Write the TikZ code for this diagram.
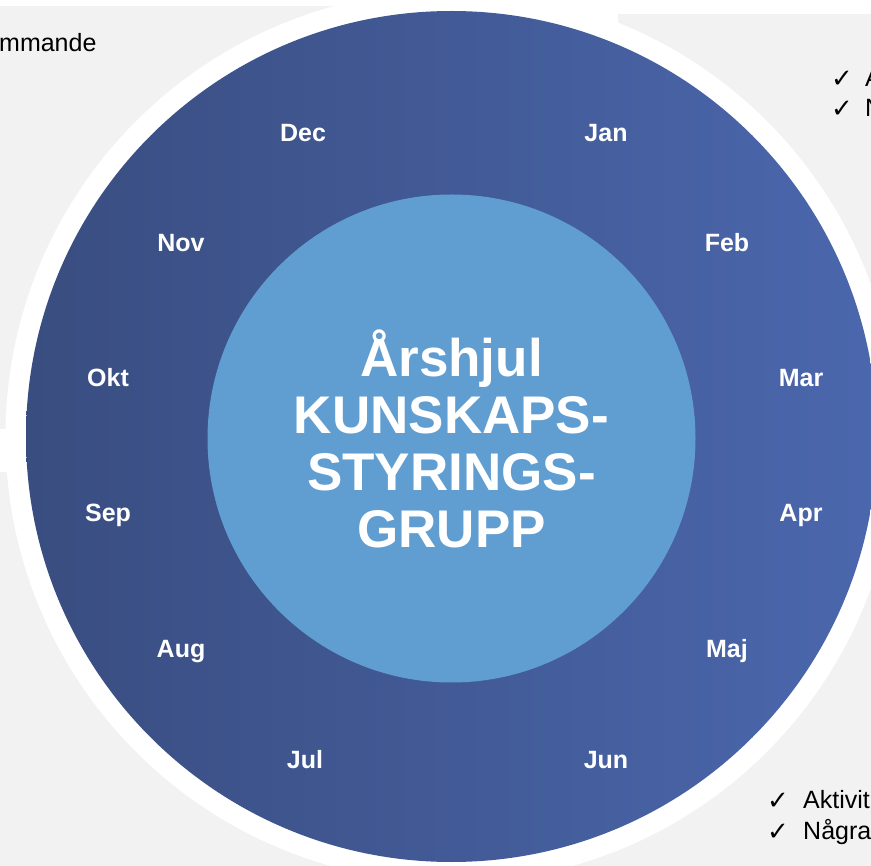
\documentclass[tikz,border=0pt]{standalone}
\usepackage{fontspec}
\setmainfont{Liberation Sans}
\newfontfamily\symfont{DejaVu Sans}
\definecolor{panelgray}{RGB}{242,242,242}
\definecolor{wheeldark}{RGB}{57,77,128}
\definecolor{wheellight}{RGB}{75,103,173}
\definecolor{hubblue}{RGB}{96,157,209}

\begin{document}
\begin{tikzpicture}[x=1pt,y=-1pt,
  month/.style={text=white,font=\fontsize{25}{27}\selectfont\bfseries,text height=18pt,text depth=0pt,inner sep=0pt},
  note/.style={anchor=base west,font=\fontsize{25}{30}\selectfont,inner sep=0pt},
  tick/.style={anchor=base west,font=\symfont\fontsize{26}{30}\selectfont,inner sep=0pt}]
\useasboundingbox (0,0) rectangle (871,866);
\clip (0,0) rectangle (871,866);
\fill[white] (0,0) rectangle (871,866);
\fill[panelgray] (0,6) rectangle (450,429);
\fill[panelgray] (618,14) rectangle (871,429);
\fill[panelgray] (0,472) rectangle (450,866);
\fill[panelgray] (450,472) rectangle (871,866);
\node (ring) [circle,fill=white,minimum size=892pt,inner sep=0pt] at (451.5,436.5) {};
\node (wheel) [circle,minimum size=851pt,inner sep=0pt,left color=wheeldark,right color=wheellight] at (ring.center) {};
\node (hub) [circle,minimum size=488pt,inner sep=0pt,fill=hubblue,text=white,align=center,font=\fontsize{53}{57}\selectfont\bfseries] at (451.5,438.5) {Årshjul\\KUNSKAPS-\\STYRINGS-\\GRUPP};
\node (dec) [month] at (303,133) {Dec};
\node (jan) [month] at (606,133) {Jan};
\node (nov) [month] at (181,243) {Nov};
\node (feb) [month] at (727,243) {Feb};
\node (okt) [month] at (108,378) {Okt};
\node (mar) [month] at (801,378) {Mar};
\node (sep) [month] at (108,513) {Sep};
\node (apr) [month] at (801,513) {Apr};
\node (aug) [month] at (181,648) {Aug};
\node (maj) [month] at (727,648) {Maj};
\node (jul) [month] at (305,759) {Jul};
\node (jun) [month] at (606,759) {Jun};
\node (kommande) [note] at (-1,52) {mmande};
\node (tickA) [tick] at (831,88) {✓};
\node (noteA) [note] at (865,87) {A};
\node (tickN) [tick] at (831,118) {✓};
\node (noteN) [note] at (865,117) {N};
\node (tickakt) [tick] at (767,809) {✓};
\node (aktivit) [note] at (803,808) {Aktivit};
\node (tickna) [tick] at (767,840) {✓};
\node (nagra) [note] at (803,839) {Några};
\end{tikzpicture}
\end{document}
